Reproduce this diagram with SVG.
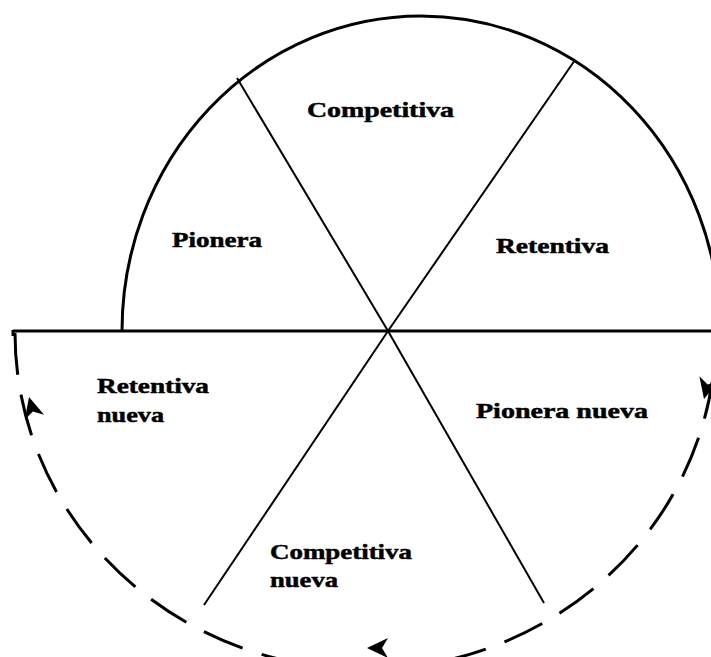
<svg xmlns="http://www.w3.org/2000/svg" width="711" height="657" viewBox="0 0 711 657">
  <style>
    .lbl { font-family: "Liberation Serif", "Times New Roman", serif; font-weight: bold; font-size: 22px; fill: #000; stroke: #000; stroke-width: 0.5; }
    .thick { fill: none; stroke: #000; stroke-width: 3; }
    .ray { fill: none; stroke: #000; stroke-width: 2; }
    .dash { fill: none; stroke: #000; stroke-width: 3; stroke-dasharray: 42 20; }
  </style>
  <defs>
    <polygon id="head" points="0,0 -21,-10 -15,0 -21,10" fill="#000"/>
  </defs>
  <rect x="0" y="0" width="711" height="657" fill="#fff"/>

  <g id="connectors">
    <!-- upper solid half-ellipse -->
    <path class="thick" d="M122,331 A299,315 0 0 1 720,331"/>
    <!-- horizontal base line -->
    <path class="thick" d="M13,331 H711 M13,330 V336"/>
    <!-- radial dividers -->
    <path class="ray" d="M388,331 L237,78 M388,331 L575,60 M388,331 L204,605 M388,331 L544,603"/>
    <!-- lower dashed arc -->
    <path class="dash" d="M15,333 A350,336 0 0 0 716,333"/>
    <!-- arrowheads -->
    <use href="#head" transform="translate(29,397) rotate(-105)"/>
    <use href="#head" transform="translate(367,648) rotate(180)"/>
    <use href="#head" transform="translate(704,399) rotate(104)"/>
  </g>

  <g id="competitiva">
    <text class="lbl" x="307" y="117" textLength="147" lengthAdjust="spacingAndGlyphs">Competitiva</text>
  </g>
  <g id="pionera">
    <text class="lbl" x="172" y="247" textLength="90" lengthAdjust="spacingAndGlyphs">Pionera</text>
  </g>
  <g id="retentiva">
    <text class="lbl" x="496" y="253" textLength="113" lengthAdjust="spacingAndGlyphs">Retentiva</text>
  </g>
  <g id="retentiva-nueva">
    <text class="lbl" x="97" y="393" textLength="112" lengthAdjust="spacingAndGlyphs">Retentiva</text>
    <text class="lbl" x="97" y="422" textLength="67" lengthAdjust="spacingAndGlyphs">nueva</text>
  </g>
  <g id="pionera-nueva">
    <text class="lbl" x="476" y="418" textLength="172" lengthAdjust="spacingAndGlyphs">Pionera nueva</text>
  </g>
  <g id="competitiva-nueva">
    <text class="lbl" x="270" y="559" textLength="142" lengthAdjust="spacingAndGlyphs">Competitiva</text>
    <text class="lbl" x="270" y="587" textLength="68" lengthAdjust="spacingAndGlyphs">nueva</text>
  </g>
</svg>
